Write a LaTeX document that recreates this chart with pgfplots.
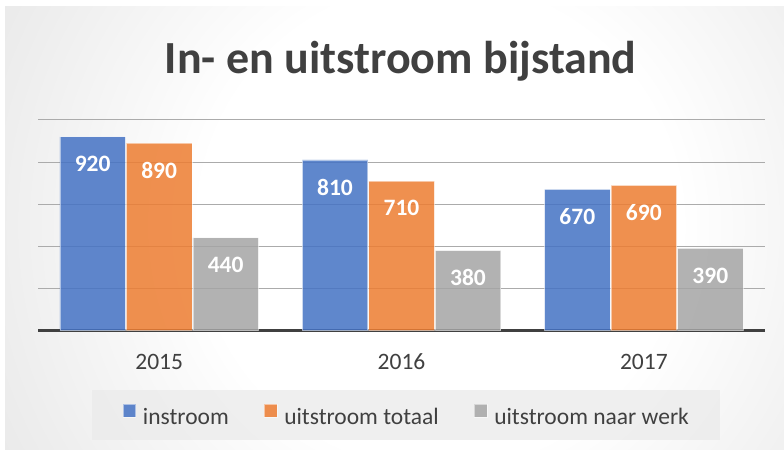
\documentclass[border=0pt]{standalone}
\usepackage{pgfplots}
\pgfplotsset{compat=1.18}
\usepackage{fontspec}
\setmainfont{Carlito}
\definecolor{cblue}{HTML}{4472C4}
\definecolor{corange}{HTML}{ED7D31}
\definecolor{cgrey}{HTML}{A5A5A5}
\definecolor{ctext}{HTML}{404040}
\definecolor{gridc}{HTML}{ABABAB}
\definecolor{legbg}{HTML}{EBEBEB}
\definecolor{bgA}{HTML}{EEEEEE}
\definecolor{bgB}{HTML}{DADADA}
\definecolor{bgC}{HTML}{CFCFCF}
\definecolor{bgD}{HTML}{C4C4C4}
\pgfdeclareradialshading{bgshade}{\pgfpoint{0bp}{0bp}}{color(0bp)=(white); color(11.5bp)=(white); color(21.15bp)=(bgA); color(33.65bp)=(bgB); color(41.35bp)=(bgC); color(50bp)=(bgD)}
\begin{document}
\begin{tikzpicture}
\path[use as bounding box, fill=white] (0bp,0bp) rectangle (784bp,450bp);
\begin{scope}
\clip (5bp,0bp) rectangle (784bp,443bp);
\shade[shading=bgshade] (440bp,225bp) circle (520bp);
\end{scope}
\node[anchor=base, font=\fontsize{46bp}{55bp}\selectfont\bfseries, text=ctext, inner sep=0pt] at (400.7bp,376.7bp) {In- en uitstroom bijstand};
\begin{axis}[
  at={(38bp,119.5bp)}, anchor=south west, scale only axis,
  width=727bp, height=210.5bp,
  xmin=-0.5, xmax=2.5, ymin=0, ymax=1000,
  ybar=1bp, bar width=65.5bp,
  /pgf/number format/assume math mode=true,
  xtick={0,1,2}, xticklabels={2015,2016,2017},
  ytick={200,400,600,800,1000}, yticklabels={},
  ymajorgrids, grid style={color=gridc, line width=1bp},
  extra y ticks={0}, extra y tick labels={},
  extra y tick style={grid style={color=ctext, line width=3bp}},
  axis line style={draw=none}, major tick length=0pt,
  tick label style={font=\fontsize{23.5bp}{28bp}\selectfont, text=ctext},
  xticklabel style={anchor=base, yshift=-38.8bp},
  nodes near coords,
  every node near coord/.append style={font=\fontsize{23.5bp}{28bp}\selectfont\bfseries, text=white, text opacity=1, anchor=center, yshift=-27bp},
  legend columns=3,
  legend style={at={(0.5058,-0.4)}, anchor=center, draw=none, fill=legbg, fill opacity=0.76, text opacity=1,
    inner xsep=31bp, inner ysep=14bp, font=\fontsize{23.5bp}{28bp}\selectfont, text=ctext,
    nodes={inner sep=0pt},
    /tikz/every odd column/.append style={column sep=6.8bp},
    /tikz/every even column/.append style={column sep=35bp}},
  legend image code/.code={\draw[#1] (0bp,0bp) rectangle (12.8bp,13bp);},
  clip=false,
]
\addplot[fill=cblue, fill opacity=0.85, draw=white, draw opacity=0.5, line width=0.8bp] coordinates {(0,920) (1,810) (2,670)};
\addplot[fill=corange, fill opacity=0.85, draw=white, draw opacity=0.5, line width=0.8bp] coordinates {(0,890) (1,710) (2,690)};
\addplot[fill=cgrey, fill opacity=0.85, draw=white, draw opacity=0.5, line width=0.8bp] coordinates {(0,440) (1,380) (2,390)};
\legend{instroom, uitstroom totaal, uitstroom naar werk}
\end{axis}
\end{tikzpicture}
\end{document}
